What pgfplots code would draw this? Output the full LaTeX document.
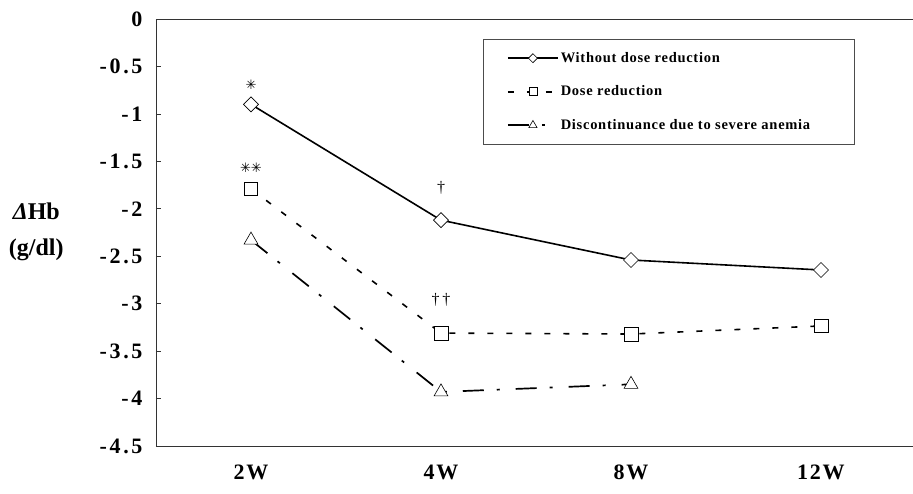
\documentclass[border=0pt]{standalone}
\usepackage{pgfplots}
\pgfplotsset{compat=1.18}
\usepackage{fontspec}
\setmainfont{Liberation Serif}
\newfontfamily\tickfont{Liberation Serif}[LetterSpace=12]
\newfontfamily\xtickfont{Liberation Serif}[LetterSpace=8]
\newfontfamily\legfont{Liberation Serif}[LetterSpace=5]
\newfontfamily\symfont{DejaVu Sans}
\begin{document}
\begin{tikzpicture}[x=1pt,y=1pt]
\useasboundingbox (-156,-48) rectangle (757,446);
\begin{axis}[at={(0,0)}, anchor=south west, scale only axis,
  width=760pt, height=427pt,
  xmin=-0.5, xmax=3.5, ymin=-4.5, ymax=0,
  xtick={0,1,2,3}, xticklabels={2W,4W,8W,12W},
  ytick={-4.5,-4,-3.5,-3,-2.5,-2,-1.5,-1,-0.5,0},
  yticklabels={-4.5,-4,-3.5,-3,-2.5,-2,-1.5,-1,-0.5,0},
  tick align=inside, ytick pos=left, xtick style={draw=none},
  major tick length=5pt,
  axis line style={black!80, line width=0.8pt},
  ytick style={black!80, line width=0.6pt},
  yticklabel style={font=\tickfont\bfseries\fontsize{22}{26}\selectfont, xshift=-10pt},
  xticklabel style={font=\xtickfont\bfseries\fontsize{22}{26}\selectfont, yshift=-15pt},
  clip=false,
  legend style={at={(0.430,0.953)}, anchor=north west, draw=black!70, line width=0.6pt,
    font=\legfont\bfseries\fontsize{14.5}{17}\selectfont, row sep=18pt,
    inner ysep=11pt, inner xsep=4pt, cells={anchor=west}},
  legend image code/.code={
    \path (0pt,0pt);
    \draw[#1, mark repeat=2, mark phase=2, every mark/.append style={scale=0.6}]
      plot coordinates {(20pt,0pt) (45pt,0pt) (70pt,0pt)};},
]
\addplot[black, line width=1.6pt, mark=square*, mark size=5.3pt,
  mark options={solid, rotate=45, fill=white, draw=black, line width=0.6pt}]
  coordinates {(0,-0.9) (1,-2.12) (2,-2.54) (3,-2.645)};
\addlegendentry{Without dose reduction}
\addplot[black, line width=1.6pt, dash pattern=on 6pt off 13pt, mark=square*, mark size=6.8pt,
  mark options={solid, fill=white, draw=black, line width=0.6pt}]
  coordinates {(0,-1.79) (1,-3.31) (2,-3.32) (3,-3.235)};
\addlegendentry{Dose reduction}
\addplot[black, line width=1.7pt, dash pattern=on 21pt off 13pt on 3pt off 16pt, mark=triangle*, mark size=8pt,
  mark options={solid, fill=white, draw=black, line width=0.6pt}]
  coordinates {(0,-2.33) (1,-3.93) (2,-3.85)};
\addlegendentry{Discontinuance due to severe anemia\hspace*{38pt}}
\node[font=\symfont\fontsize{13}{15}\selectfont] at (axis cs:0,-0.69) {✳};
\node[font=\symfont\fontsize{13}{15}\selectfont] at (axis cs:0,-1.57) {✳✳};
\node[font=\fontsize{16}{18}\selectfont] at (axis cs:1,-1.78) {†};
\node[font=\fontsize{16}{18}\selectfont] at (axis cs:1,-2.96) {†\,†};
\node[align=center, font=\bfseries\fontsize{24}{36}\selectfont] at (axis cs:-1.13,-2.24)
  {\textit{Δ}Hb\\(g/dl)};
\end{axis}
\end{tikzpicture}
\end{document}
